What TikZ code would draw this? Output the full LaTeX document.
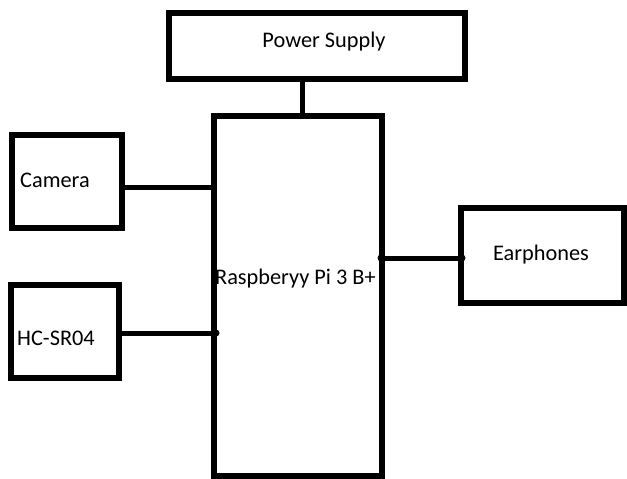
\documentclass[tikz,border=0pt]{standalone}
\usepackage{fontspec}
\setmainfont{Carlito}
\begin{document}
\begin{tikzpicture}[x=1pt,y=-1pt,
  blk/.style={draw=black,line width=6pt,fill=white,rectangle,inner sep=0pt},
  wire/.style={draw=black,line width=5pt},
  lbl/.style={font=\fontsize{22.3}{26}\selectfont,text=black,inner sep=0pt},
  jdot/.style={circle,fill=black,inner sep=0pt,minimum size=7pt}]
\useasboundingbox[fill=white] (0,0) rectangle (627,479);
% boxes (centre-line coordinates)
\node[blk,minimum width=296pt,minimum height=66pt] (ps) at (317,46) {};
\node[blk,minimum width=168pt,minimum height=360pt] (pi) at (298,296) {};
\node[blk,minimum width=110pt,minimum height=93pt] (cam) at (67,181.5) {};
\node[blk,minimum width=108pt,minimum height=93pt] (hc) at (65,331.5) {};
\node[blk,minimum width=163pt,minimum height=95pt] (ear) at (542,255.5) {};
% connectors
\draw[wire] (ps.south -| 302,0) -- (pi.north -| 302,0);
\draw[wire] (cam.east |- 0,187) -- (pi.west |- 0,187);
\draw[wire] (hc.east |- 0,333) -- (pi.west |- 0,333);
\draw[wire] (pi.east |- 0,258) -- (ear.west |- 0,258);
\node[jdot] (d1) at (216,333) {};
\node[jdot] (d2) at (381,258) {};
\node[jdot] (d3) at (462,258) {};
% texts
\node[lbl] (tps) at (324,42) {Power Supply};
\node[lbl,anchor=base west] (tcam) at (20,187) {Camera};
\node[lbl,anchor=base west] (thc) at (17,345) {HC-SR04};
\node[lbl,anchor=base west] (tear) at (493,260) {Earphones};
\node[lbl,anchor=base west] (tpi) at (215,284) {Raspberyy Pi 3 B+};
\end{tikzpicture}
\end{document}
